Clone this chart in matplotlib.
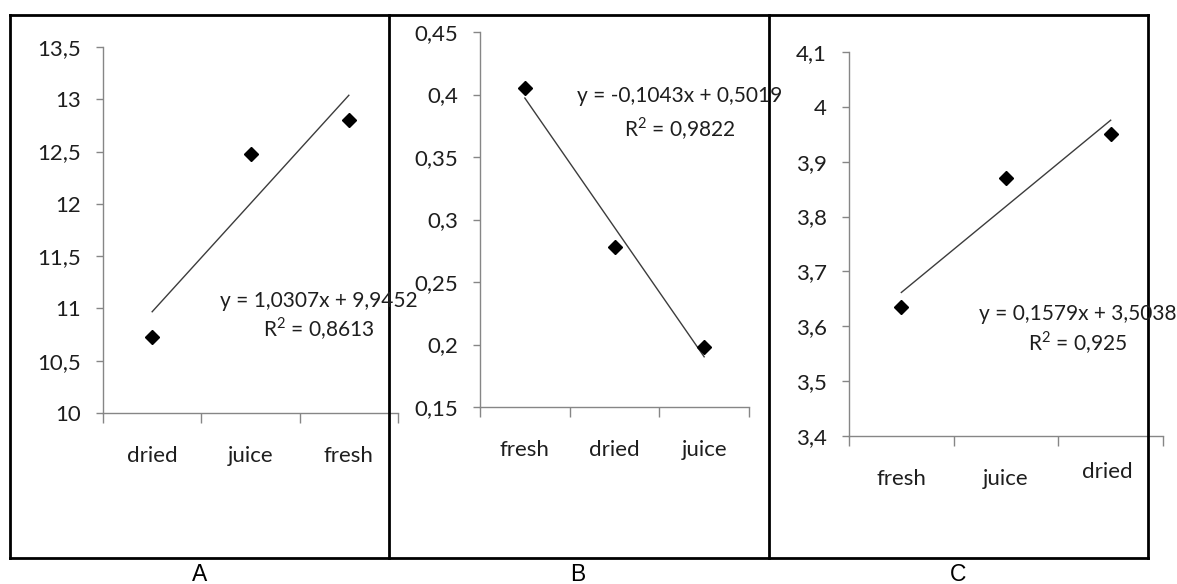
import matplotlib
matplotlib.use('Agg')
import matplotlib.pyplot as plt
from matplotlib.lines import Line2D
from matplotlib.transforms import ScaledTranslation
import numpy as np

plt.rcParams['font.family'] = ['Lato', 'DejaVu Sans']
plt.rcParams['mathtext.fontset'] = 'custom'
plt.rcParams['mathtext.rm'] = 'Lato'

# --- data ---
a_cats = ['dried', 'juice', 'fresh']
a_vals = [10.73, 12.48, 12.80]
a_yticks = [10, 10.5, 11, 11.5, 12, 12.5, 13, 13.5]
a_eq = 'y = 1,0307x + 9,9452'
a_r2 = 'R$^{\\mathrm{2}}$ = 0,8613'

b_cats = ['fresh', 'dried', 'juice']
b_vals = [0.405, 0.278, 0.198]
b_yticks = [0.15, 0.2, 0.25, 0.3, 0.35, 0.4, 0.45]
b_eq = 'y = -0,1043x + 0,5019'
b_r2 = 'R$^{\\mathrm{2}}$ = 0,9822'

c_cats = ['fresh', 'juice', 'dried']
c_vals = [3.636, 3.870, 3.950]
c_yticks = [3.4, 3.5, 3.6, 3.7, 3.8, 3.9, 4.0, 4.1]
c_eq = 'y = 0,1579x + 3,5038'
c_r2 = 'R$^{\\mathrm{2}}$ = 0,925'

panel_names = ['A', 'B', 'C']

W, H = 1177, 584
GRAY = '#868686'
TXT = '#1e1e1e'

fig = plt.figure(figsize=(W / 100, H / 100), dpi=100)


def fx(px):
    return px / W


def fy(py):
    return 1 - py / H


def fmt(v):
    return f'{v:g}'.replace('.', ',')


def draw_panel(rect, cats, vals, yticks):
    l, t, r, b = rect
    ax = fig.add_axes([fx(l), fy(b), fx(r) - fx(l), fy(t) - fy(b)])
    ax.patch.set_alpha(0)
    x = np.arange(1, len(cats) + 1)
    k, c0 = np.polyfit(x, vals, 1)
    ax.plot([x[0], x[-1]], [k * x[0] + c0, k * x[-1] + c0], color='#3c3c3c', lw=1)
    ax.plot(x, vals, 'D', color='black', ms=7.5, clip_on=False, zorder=3)
    ax.set_xlim(0.5, len(cats) + 0.5)
    ax.set_ylim(yticks[0], yticks[-1])
    ax.set_yticks(yticks, labels=[fmt(v) for v in yticks])
    ax.set_xticks(np.arange(0.5, len(cats) + 1), labels=[''] * (len(cats) + 1))
    ax.set_xticks(x, labels=cats, minor=True)
    ax.tick_params(axis='x', which='major', length=7.2, width=1, color=GRAY)
    ax.tick_params(axis='x', which='minor', length=0, pad=24, labelsize=16, labelcolor=TXT)
    ax.tick_params(axis='y', length=5, width=1, color=GRAY, pad=11, labelsize=16, labelcolor=TXT)
    for s in ['top', 'right']:
        ax.spines[s].set_visible(False)
    for s in ['left', 'bottom']:
        ax.spines[s].set_color(GRAY)
        ax.spines[s].set_linewidth(1)
    return ax


ax_a = draw_panel((103, 47, 398, 413), a_cats, a_vals, a_yticks)
ax_b = draw_panel((480, 32, 749, 407), b_cats, b_vals, b_yticks)
ax_c = draw_panel((849, 52, 1163, 436), c_cats, c_vals, c_yticks)

# last label of C sits a bit higher in the original
lbl = ax_c.get_xticklabels(minor=True)[2]
lbl.set_transform(lbl.get_transform() + ScaledTranslation(-0.03, 0.07, fig.dpi_scale_trans))

# trendline equations
for cx, y1, y2, eq, r2 in [(319, 307, 337, a_eq, a_r2),
                           (680, 102, 137, b_eq, b_r2),
                           (1078, 320, 351, c_eq, c_r2)]:
    fig.text(fx(cx), fy(y1), eq, ha='center', va='baseline', fontsize=15, color=TXT, zorder=5)
    fig.text(fx(cx), fy(y2), r2, ha='center', va='baseline', fontsize=15, color=TXT, zorder=5)

# frames around the panels
for xv in [10, 389, 769, 1148]:
    fig.add_artist(Line2D([fx(xv), fx(xv)], [fy(15), fy(558)], color='black', lw=2))
for yv in [15, 558]:
    fig.add_artist(Line2D([fx(10), fx(1148)], [fy(yv), fy(yv)], color='black', lw=2))

# panel letters
for xv, name in zip([200, 578, 958], panel_names):
    fig.text(fx(xv), fy(581), name, ha='center', va='baseline', fontsize=16.5,
             family='Liberation Sans', color='black')

fig.savefig('out.png', dpi=100)
